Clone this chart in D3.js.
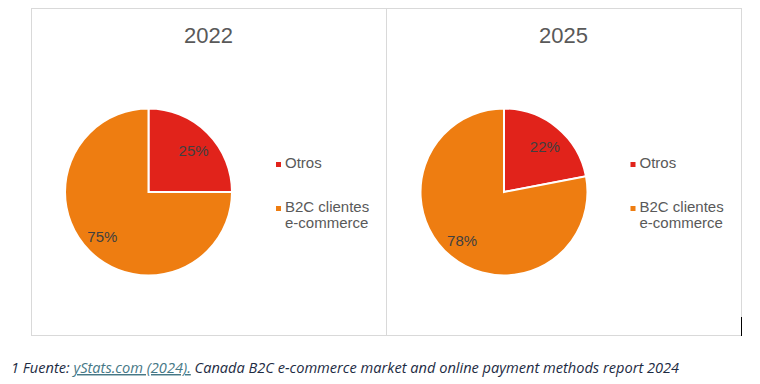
<!DOCTYPE html>
<html>
<head>
<meta charset="utf-8">
<script src="https://cdn.jsdelivr.net/npm/d3@7"></script>
<style>
  body { margin: 0; background: #fff; }
  svg { display: block; }
</style>
</head>
<body>
<div id="chart"></div>
<script>
// data
var years = ["2022", "2025"]
var categories = ["Otros", "B2C clientes e-commerce"]
var legendLines = [["Otros"], ["B2C clientes", "e-commerce"]]
var values2022 = [25, 75]
var values2025 = [22, 78]
var seriesValues = [values2022, values2025]

var width = 760, height = 384
var color = d3.scaleOrdinal()
  .domain(categories)
  .range(["#E1231B", "#EE7D11"])

const svg = d3.select("#chart").append("svg")
    .attr("width", width)
    .attr("height", height)

// panels
var panels = [
  {x: 31.5, y: 8.5, w: 355, h: 327},
  {x: 386.5, y: 8.5, w: 355, h: 327}
]

var radius = 83.5
var pie = d3.pie().sort(null).value(d => d)
var arc = d3.arc().innerRadius(0).outerRadius(radius)
var labelArc = d3.arc().innerRadius(61).outerRadius(61)

panels.forEach(function(p, i) {
  svg.append("rect")
    .attr("x", p.x).attr("y", p.y)
    .attr("width", p.w).attr("height", p.h)
    .attr("fill", "none")
    .attr("stroke", "#d9d9d9")
    .attr("stroke-width", 1)

  const g = svg.append("g")
    .attr("transform", "translate(" + p.x + "," + p.y + ")")

  g.append("text")
    .attr("x", 177)
    .attr("y", 34.5)
    .attr("text-anchor", "middle")
    .attr("font-family", "Liberation Sans, Arial, sans-serif")
    .attr("font-size", 22)
    .attr("fill", "#595959")
    .text(years[i])

  const cx = i == 0 ? 117 : 117.5
  const pg = g.append("g")
    .attr("transform", "translate(" + cx + "," + 183.5 + ")")

  const arcs = pie(seriesValues[i])

  pg.selectAll("path")
    .data(arcs)
    .join("path")
      .attr("d", arc)
      .attr("fill", (d, j) => color(categories[j]))
      .attr("stroke", "#fff")
      .attr("stroke-width", 2)
      .attr("stroke-linejoin", "miter")

  pg.selectAll("text")
    .data(arcs)
    .join("text")
      .attr("transform", d => {
        const c = labelArc.centroid(d)
        // nudge slightly outward horizontally, like the source
        return "translate(" + (c[0] + (c[0] > 0 ? 2 : -3)) + "," + (c[1] + 2) + ")"
      })
      .attr("dy", "0.35em")
      .attr("text-anchor", "middle")
      .attr("font-family", "Liberation Sans, Arial, sans-serif")
      .attr("font-size", 15)
      .attr("fill", "#404040")
      .text(d => d.data + "%")

  // legend
  const lx = i == 0 ? 244.5 : 244
  const leg = g.selectAll("g.leg")
    .data(categories)
    .join("g")
      .attr("class", "leg")
      .attr("transform", (d, j) => "translate(" + lx + "," + (j == 0 ? 159 : 203) + ")")

  leg.append("rect")
    .attr("x", 0).attr("y", -5.5)
    .attr("width", 5).attr("height", 5)
    .attr("fill", d => color(d))

  leg.append("text")
    .attr("x", 9)
    .attr("font-family", "Liberation Sans, Arial, sans-serif")
    .attr("font-size", 15)
    .attr("fill", "#595959")
    .selectAll("tspan")
    .data((d, j) => legendLines[j])
    .join("tspan")
      .attr("x", 9)
      .attr("y", (d, k) => k * 16.5)
      .text(d => d)
})

// cursor mark at the right edge
svg.append("line")
  .attr("x1", 741.5).attr("x2", 741.5)
  .attr("y1", 317).attr("y2", 336)
  .attr("stroke", "#000")
  .attr("stroke-width", 1)

// footnote
const note = svg.append("text")
  .attr("x", 11)
  .attr("y", 373)
  .attr("font-family", "Open Sans, sans-serif")
  .attr("font-style", "italic")
  .attr("font-size", 14.6)
  .attr("fill", "#1d2b43")

note.append("tspan").text("1 Fuente: ")
note.append("tspan")
  .attr("fill", "#467886")
  .attr("text-decoration", "underline")
  .text("yStats.com (2024).")
note.append("tspan").text(" Canada B2C e-commerce market and online payment methods report 2024")
</script>
</body>
</html>
